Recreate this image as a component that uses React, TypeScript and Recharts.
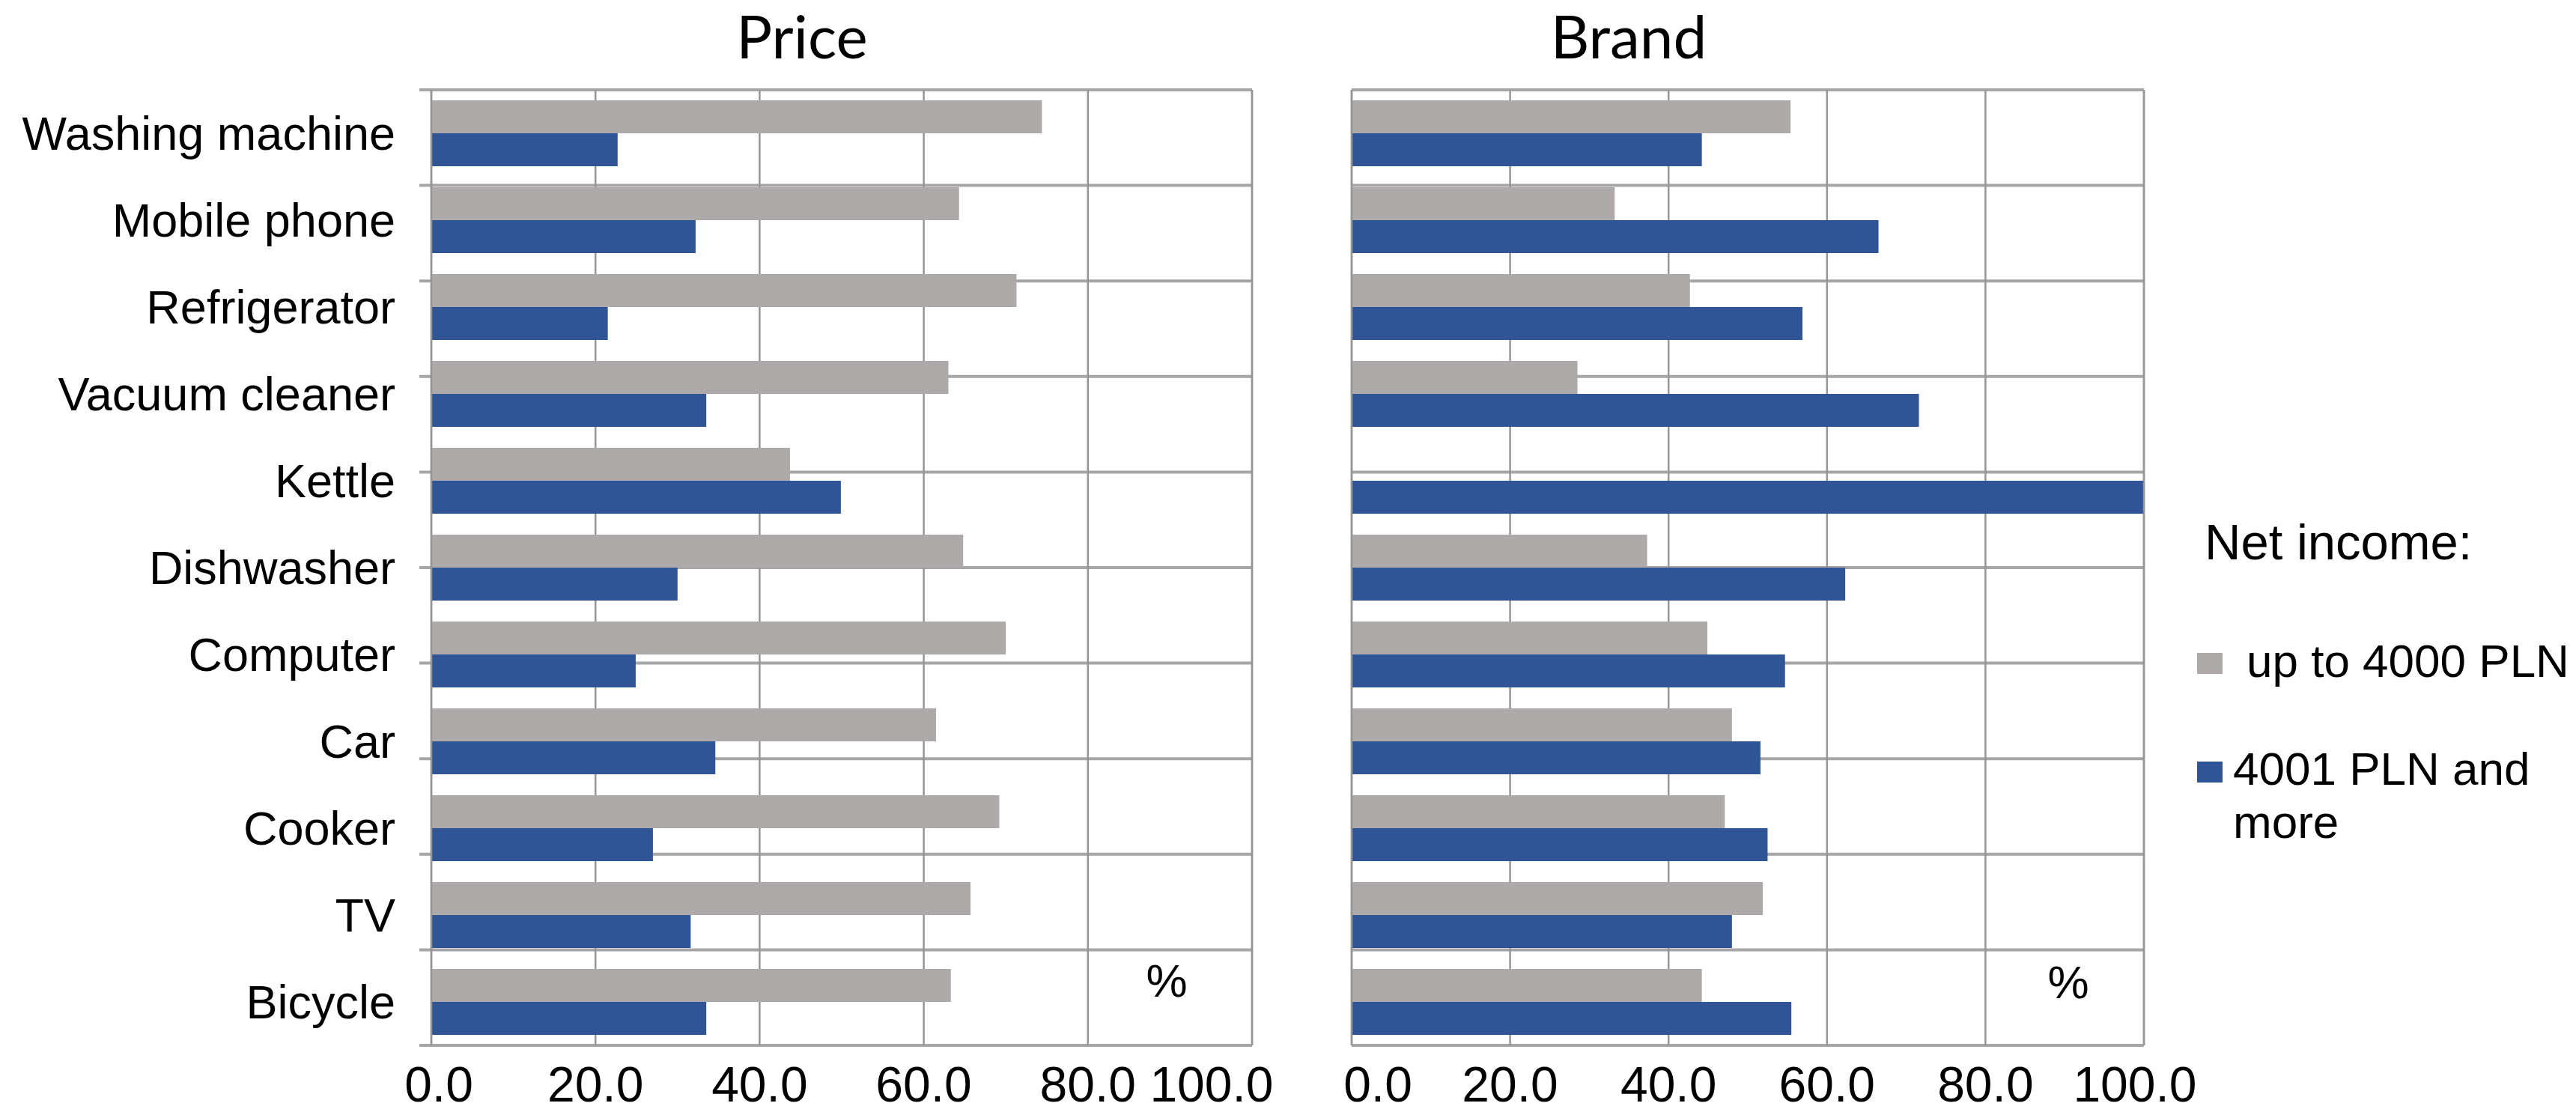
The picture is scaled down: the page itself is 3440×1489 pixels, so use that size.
import React from "react";
import {
  BarChart,
  Bar,
  XAxis,
  YAxis,
  CartesianGrid,
  ReferenceLine,
} from "recharts";

const categories = [
  "Washing machine",
  "Mobile phone",
  "Refrigerator",
  "Vacuum cleaner",
  "Kettle",
  "Dishwasher",
  "Computer",
  "Car",
  "Cooker",
  "TV",
  "Bicycle",
];

// % of respondents, income up to 4000 PLN / 4001 PLN and more
const priceLow = [74.4, 64.3, 71.3, 63.0, 43.7, 64.8, 70.0, 61.5, 69.2, 65.7, 63.3];
const priceHigh = [22.7, 32.2, 21.5, 33.5, 49.9, 30.0, 24.9, 34.6, 27.0, 31.6, 33.5];
const brandLow = [55.4, 33.2, 42.7, 28.5, 0, 37.3, 44.9, 48.0, 47.1, 51.9, 44.2];
const brandHigh = [44.2, 66.5, 56.9, 71.6, 100, 62.3, 54.7, 51.6, 52.5, 48.0, 55.5];

const xTicks = [0, 20, 40, 60, 80, 100];
const seriesNames = ["up to 4000 PLN", "4001 PLN and more"];
const legendTitle = "Net income:";
const panelTitles = ["Price", "Brand"];

const FONT = "'Liberation Sans', Arial, sans-serif";
const GRAY = "#aeaaaa";
const BLUE = "#2f5597";
const H_LINE = "#a6a6a6";
const V_LINE = "#969696";

// band boundaries for the horizontal grid lines
const bandEdges = Array.from({ length: categories.length + 1 }, (_, i) => i);

// nudges for the outermost value labels so they don't collide between panels
const shiftLeftPanel: Record<number, number> = { 0: 10, 100: -54 };
const shiftRightPanel: Record<number, number> = { 0: 35, 100: -12 };

function ValueTick(props: any) {
  const { x, y, payload, shifts } = props;
  const dx = shifts[payload.value] || 0;
  return (
    <text
      x={x + dx}
      y={y}
      dy="0.71em"
      textAnchor="middle"
      fontSize={66}
      fontFamily={FONT}
      fill="#000"
    >
      {Number(payload.value).toFixed(1)}
    </text>
  );
}

type PanelProps = {
  low: number[];
  high: number[];
  showCategories: boolean;
  width: number;
  margin: { top: number; right: number; bottom: number; left: number };
  gridX?: number;
  gridWidth?: number;
  shifts: Record<number, number>;
};

function Panel({ low, high, showCategories, width, margin, gridX, gridWidth, shifts }: PanelProps) {
  const data = categories.map((c, i) => ({ category: c, low: low[i], high: high[i] }));
  return (
    <BarChart
      width={width}
      height={1489}
      data={data}
      layout="vertical"
      margin={margin}
      barCategoryGap={14}
      barGap={0}
    >
      <CartesianGrid
        yAxisId="grid"
        vertical={false}
        x={gridX}
        width={gridWidth}
        stroke={H_LINE}
        strokeWidth={4}
      />
      <CartesianGrid yAxisId="cat" horizontal={false} stroke={V_LINE} strokeWidth={2.5} />
      <XAxis
        type="number"
        domain={[0, 100]}
        ticks={xTicks}
        interval={0}
        axisLine={false}
        tickLine={false}
        tickMargin={22}
        height={93}
        tick={<ValueTick shifts={shifts} />}
      />
      <YAxis
        yAxisId="cat"
        type="category"
        dataKey="category"
        width={576}
        hide={!showCategories}
        interval={0}
        axisLine={false}
        tickLine={false}
        tickMargin={42}
        tick={{ fontSize: 63, fill: "#000", fontFamily: FONT }}
      />
      <YAxis yAxisId="grid" type="number" domain={[0, categories.length]} ticks={bandEdges} hide />
      <ReferenceLine yAxisId="cat" x={0} stroke={V_LINE} strokeWidth={2.5} />
      <ReferenceLine yAxisId="cat" x={100} stroke={V_LINE} strokeWidth={2.5} />
      <Bar yAxisId="cat" dataKey="low" name={seriesNames[0]} fill={GRAY} isAnimationActive={false} />
      <Bar yAxisId="cat" dataKey="high" name={seriesNames[1]} fill={BLUE} isAnimationActive={false} />
    </BarChart>
  );
}

function Overlay() {
  const titleStyle = { fontFamily: "Lato, 'Open Sans', sans-serif", fontSize: 80, fill: "#000" };
  const textStyle = { fontFamily: FONT, fontSize: 62, fill: "#000" };
  return (
    <svg
      width={3440}
      height={1489}
      style={{ position: "absolute", left: 0, top: 0, pointerEvents: "none" }}
    >
      <text x={1071} y={78} textAnchor="middle" style={titleStyle}>
        {panelTitles[0]}
      </text>
      <text x={2175} y={78} textAnchor="middle" style={titleStyle}>
        {panelTitles[1]}
      </text>
      <text x={1558} y={1331} textAnchor="middle" style={textStyle}>%</text>
      <text x={2762} y={1333} textAnchor="middle" style={textStyle}>%</text>

      <text x={2944} y={747} style={{ ...textStyle, fontSize: 67 }}>
        {legendTitle}
      </text>
      <rect x={2934} y={872} width={34} height={28} fill={GRAY} />
      <text x={3000} y={904} style={textStyle}>
        {seriesNames[0]}
      </text>
      <rect x={2934} y={1017} width={34} height={28} fill={BLUE} />
      <text x={2982} y={1048} style={textStyle}>
        {seriesNames[1].split(" more")[0]}
      </text>
      <text x={2982} y={1119} style={textStyle}>
        more
      </text>
    </svg>
  );
}

export default function App() {
  return (
    <div
      style={{
        position: "absolute",
        left: 0,
        top: 0,
        width: 3440,
        height: 1489,
        background: "#fff",
        overflow: "hidden",
      }}
    >
      <div style={{ position: "absolute", left: 0, top: 0 }}>
        <Panel
          low={priceLow}
          high={priceHigh}
          showCategories
          width={1740}
          margin={{ top: 120, right: 68, bottom: 0, left: 0 }}
          gridX={560}
          gridWidth={1112}
          shifts={shiftLeftPanel}
        />
      </div>
      <div style={{ position: "absolute", left: 1760, top: 0 }}>
        <Panel
          low={brandLow}
          high={brandHigh}
          showCategories={false}
          width={1200}
          margin={{ top: 120, right: 97, bottom: 0, left: 45 }}
          shifts={shiftRightPanel}
        />
      </div>
      <Overlay />
    </div>
  );
}
